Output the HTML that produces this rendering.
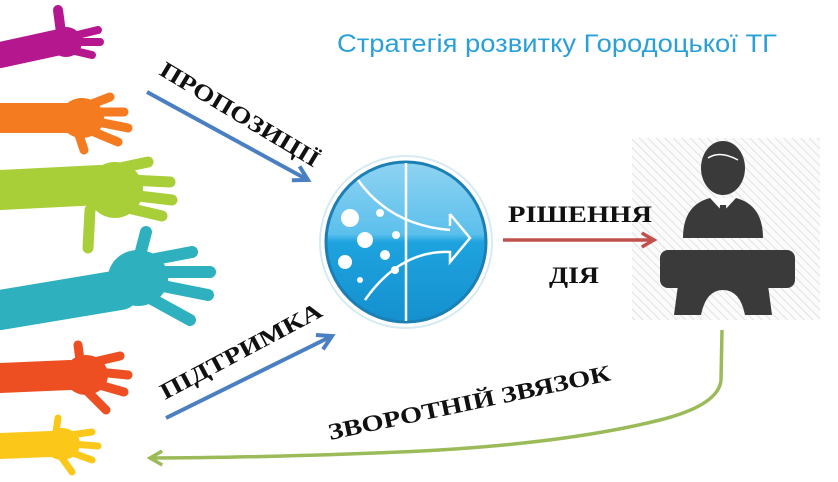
<!DOCTYPE html>
<html><head><meta charset="utf-8"><style>
html,body{margin:0;padding:0;background:#fff;}
svg{display:block}
</style></head><body>
<svg width="838" height="482" viewBox="0 0 838 482" xmlns="http://www.w3.org/2000/svg">
<defs>
<pattern id="hatch" width="6" height="6" patternUnits="userSpaceOnUse" patternTransform="rotate(-45)">
<rect width="6" height="6" fill="#fbfbfb"/><line x1="0" y1="0" x2="0" y2="6" stroke="#e2e2e2" stroke-width="2"/>
</pattern>
<linearGradient id="gl" x1="0" y1="0" x2="0" y2="1">
<stop offset="0" stop-color="#8fd3f2"/><stop offset="0.45" stop-color="#5cc0ec"/><stop offset="0.5" stop-color="#1ea3df"/><stop offset="1" stop-color="#1590cf"/>
</linearGradient>
<marker id="ab" viewBox="0 0 10 10" refX="8" refY="5" markerWidth="5" markerHeight="5" orient="auto"><path d="M1,1 L8,5 L1,9" fill="none" stroke="#4a7fc1" stroke-width="2"/></marker>
<marker id="ar" viewBox="0 0 10 10" refX="8" refY="5" markerWidth="5" markerHeight="5" orient="auto"><path d="M1,1 L8,5 L1,9" fill="none" stroke="#c0504d" stroke-width="2"/></marker>
<marker id="ag" viewBox="0 0 10 10" refX="8" refY="5" markerWidth="5" markerHeight="5" orient="auto"><path d="M1,1 L8,5 L1,9" fill="none" stroke="#9bbb59" stroke-width="2"/></marker>
</defs>

<!-- hands -->
<g stroke-linecap="round" fill="none">
<g stroke="#b5178f">
<path d="M0,55 L60,42" stroke-width="26"/>
<path d="M62,40 L58,10" stroke-width="10"/>
<path d="M65,38 L98,30 M65,42 L100,42 M62,48 L92,55" stroke-width="8"/>
<ellipse cx="66" cy="42" rx="16" ry="15" fill="#b5178f" stroke="none"/>
</g>
<g stroke="#f47b20">
<path d="M0,118 L70,118" stroke-width="30"/>
<ellipse cx="82" cy="118" rx="22" ry="20" fill="#f47b20" stroke="none"/>
<path d="M92,104 L110,97 M98,112 L124,112 M98,122 L128,128 M94,132 L118,142 M78,132 L84,150" stroke-width="9"/>
</g>
<g stroke="#a8cf38">
<path d="M0,190 L100,185" stroke-width="40"/>
<ellipse cx="115" cy="190" rx="28" ry="28" fill="#a8cf38" stroke="none"/>
<path d="M120,168 L148,162 M130,180 L170,182 M130,195 L172,200 M128,208 L162,216 M90,210 L88,248" stroke-width="11"/>
</g>
<g stroke="#2eb0bf">
<path d="M0,310 L120,290" stroke-width="40"/>
<ellipse cx="138" cy="278" rx="30" ry="28" fill="#2eb0bf" stroke="none"/>
<path d="M140,255 L146,232 M150,260 L192,252 M158,272 L210,272 M158,285 L208,295 M150,298 L190,320" stroke-width="12"/>
</g>
<g stroke="#ee4f22">
<path d="M0,378 L70,375" stroke-width="30"/>
<ellipse cx="86" cy="375" rx="22" ry="20" fill="#ee4f22" stroke="none"/>
<path d="M80,360 L78,345 M94,362 L120,356 M98,372 L128,375 M96,384 L124,392 M88,392 L106,410" stroke-width="9"/>
</g>
<g stroke="#fbc81a">
<path d="M0,446 L50,444" stroke-width="26"/>
<ellipse cx="62" cy="444" rx="18" ry="16" fill="#fbc81a" stroke="none"/>
<path d="M56,432 L58,418 M70,435 L92,432 M72,444 L98,446 M70,452 L92,460 M62,458 L72,472" stroke-width="7"/>
</g>
</g>

<!-- person panel -->
<rect x="632" y="138" width="188" height="182" fill="url(#hatch)"/>
<g fill="#3a3a3a">
<ellipse cx="723" cy="168" rx="22" ry="27"/>
<path d="M683,238 Q683,205 710,198 L723,212 L736,198 Q763,205 763,238 Z"/>
<rect x="660" y="250" width="135" height="38" rx="8"/>
<path d="M678,285 L768,285 L772,315 L745,315 Q740,290 723,290 Q706,290 701,315 L674,315 Z"/>
</g>
<path d="M711,198 L723,212 L735,198 Z" fill="#fff"/>
<path d="M720,205 L726,205 L728,232 L723,238 L718,232 Z" fill="#3a3a3a"/>
<path d="M708,158 Q720,150 738,160" stroke="#fff" stroke-width="1.5" fill="none"/>

<!-- title -->
<text x="337" y="52" font-family="Liberation Sans, sans-serif" font-size="25" fill="#2aa0d8" textLength="440" lengthAdjust="spacingAndGlyphs">Стратегія розвитку Городоцької ТГ</text>

<!-- arrows -->
<line x1="147" y1="92" x2="308" y2="180" stroke="#4a7fc1" stroke-width="4" marker-end="url(#ab)"/>
<line x1="166" y1="418" x2="332" y2="336" stroke="#4a7fc1" stroke-width="4" marker-end="url(#ab)"/>
<line x1="503" y1="240" x2="654" y2="240" stroke="#c0504d" stroke-width="3.5" marker-end="url(#ar)"/>
<path d="M722,330 L721,380 Q719,405 660,420 Q560,445 400,452 Q250,458 150,458" fill="none" stroke="#9bbb59" stroke-width="3.5" marker-end="url(#ag)"/>

<!-- labels -->
<g font-family="Liberation Serif, serif" font-weight="bold" fill="#111">
<text transform="translate(158,74) rotate(31)" font-size="23" textLength="182" lengthAdjust="spacingAndGlyphs">ПРОПОЗИЦІЇ</text>
<text transform="translate(165,400) rotate(-28)" font-size="23" textLength="180" lengthAdjust="spacingAndGlyphs">ПІДТРИМКА</text>
<text x="508" y="222" font-size="23" textLength="144" lengthAdjust="spacingAndGlyphs">РІШЕННЯ</text>
<text x="549" y="283" font-size="23" textLength="50" lengthAdjust="spacingAndGlyphs">ДІЯ</text>
<text transform="translate(330,440) rotate(-12)" font-size="23" textLength="288" lengthAdjust="spacingAndGlyphs">ЗВОРОТНІЙ ЗВЯЗОК</text>
</g>

<!-- globe -->
<circle cx="406" cy="242" r="86" fill="#fff" stroke="#d6eaf3" stroke-width="2"/>
<circle cx="406" cy="242" r="80" fill="url(#gl)" stroke="#1c7fb4" stroke-width="3"/>
<line x1="406" y1="163" x2="406" y2="321" stroke="#fff" stroke-width="2.5"/>
<path d="M358,180 Q390,225 450,230" fill="none" stroke="#fff" stroke-width="2.5"/>
<path d="M450,214 L470,238 L450,262 L450,252 Q400,250 365,300" fill="none" stroke="#fff" stroke-width="2.5"/>
<path d="M450,214 L450,226" stroke="#fff" stroke-width="2.5"/>
<g fill="#fff">
<circle cx="350" cy="218" r="9"/><circle cx="365" cy="240" r="8"/><circle cx="345" cy="262" r="7"/><circle cx="380" cy="213" r="4"/><circle cx="385" cy="255" r="5"/><circle cx="396" cy="235" r="4"/><circle cx="360" cy="280" r="3"/><circle cx="395" cy="270" r="4"/>
</g>
</svg>
</body></html>
